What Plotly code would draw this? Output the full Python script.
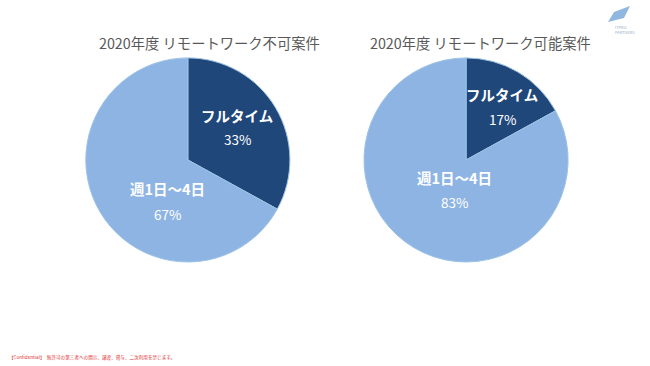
import plotly.graph_objects as go

categories = ["フルタイム", "週1日～4日"]
not_remote_values = [33, 67]
remote_values = [17, 83]
titles = ["2020年度 リモートワーク不可案件", "2020年度 リモートワーク可能案件"]
colors = ["#1F477A", "#8EB4E3"]

FONT = "Noto Sans CJK JP"
W, H = 650, 366

fig = go.Figure()
domains = [[0.132, 0.446], [0.560, 0.874]]
# label anchor positions (pixels) for each pie: [(x, y_label, y_pct) per category]
label_pos = [
    [(237, 115, 139), (167, 188, 214)],
    [(502, 95, 119), (455, 177, 202)],
]
for vals, dom, lp in zip([not_remote_values, remote_values], domains, label_pos):
    fig.add_trace(go.Pie(
        labels=categories, values=vals, sort=False, direction="clockwise",
        rotation=0,
        marker=dict(colors=colors, line=dict(color="#9DC3E6", width=1)),
        textinfo="none",
        domain=dict(x=dom, y=[0.284, 0.842]),
        showlegend=False, hoverinfo="label+percent",
    ))
    for cat, v, (px, py1, py2) in zip(categories, vals, lp):
        fig.add_annotation(text=f"<b>{cat}</b>", x=px / W, y=1 - py1 / H, xref="paper", yref="paper",
                           showarrow=False, font=dict(size=14.5, color="white", family=FONT),
                           xanchor="center", yanchor="middle")
        fig.add_annotation(text=f"{v}%", x=px / W, y=1 - py2 / H, xref="paper", yref="paper",
                           showarrow=False, font=dict(size=13.5, color="white", family=FONT),
                           xanchor="center", yanchor="middle")

for t, xc in zip(titles, [209 / W, 480 / W]):
    fig.add_annotation(text=t, x=xc, y=1 - 42 / H, xref="paper", yref="paper",
                       showarrow=False, font=dict(size=14.3, color="#595959", family=FONT),
                       xanchor="center", yanchor="middle")

fig.add_annotation(text="【Confidential】　無許可の第三者への開示、譲渡、貸与、二次利用を禁じます。",
                   x=7 / W, y=1 - 357 / H, xref="paper", yref="paper", showarrow=False,
                   font=dict(size=4.6, color="#E03030", family=FONT), xanchor="left", yanchor="middle")

# logo
fig.add_shape(type="path", path="M 614 12 L 630 6 L 624 18 L 608 22 Z", xref="x", yref="y",
              fillcolor="#8FB7E0", line=dict(width=0))
fig.add_annotation(text="ITPRO<br>PARTNERS", x=613 / W, y=1 - 30 / H, xref="paper", yref="paper",
                   showarrow=False, align="left", font=dict(size=4, color="#9AB0C8", family=FONT),
                   xanchor="left", yanchor="middle")

fig.update_xaxes(range=[0, W], visible=False)
fig.update_yaxes(range=[H, 0], visible=False)
fig.update_layout(width=W, height=H, margin=dict(l=0, r=0, t=0, b=0),
                  paper_bgcolor="white", plot_bgcolor="white",
                  xaxis=dict(domain=[0, 1]), yaxis=dict(domain=[0, 1]))
fig.write_html("out.html", config={"displayModeBar": False},
               post_script="document.body.style.margin='0';document.body.style.overflow='hidden';")
